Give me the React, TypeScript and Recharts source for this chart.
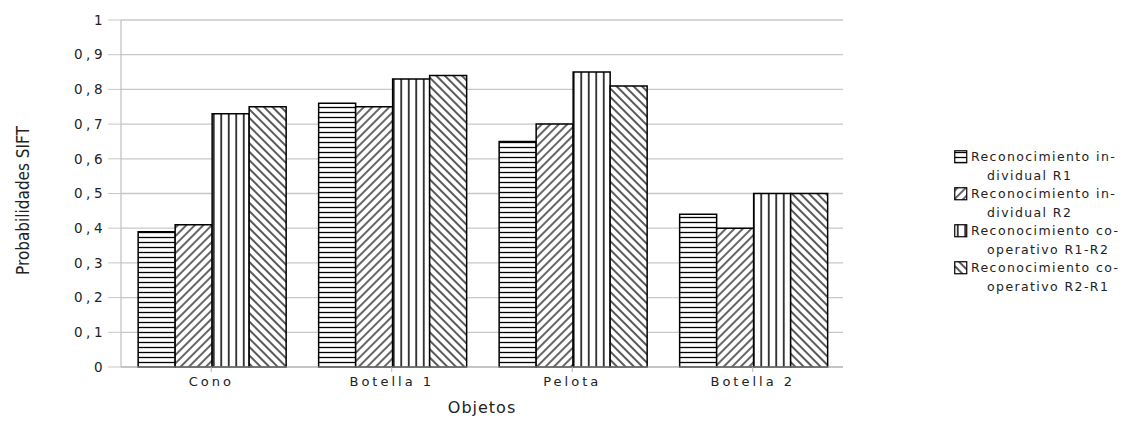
import { Bar, BarChart, CartesianGrid, XAxis, YAxis } from 'recharts'

const categories = ['Cono', 'Botella 1', 'Pelota', 'Botella 2']
const r1 = [0.39, 0.76, 0.65, 0.44]
const r2 = [0.41, 0.75, 0.7, 0.4]
const r1r2 = [0.73, 0.83, 0.85, 0.5]
const r2r1 = [0.75, 0.84, 0.81, 0.5]
const yTicks = [0, 0.1, 0.2, 0.3, 0.4, 0.5, 0.6, 0.7, 0.8, 0.9, 1]

const series = [
  { key: 'r1', values: r1, pattern: 'pHoriz', label: ['Reconocimiento in-', 'dividual R1'] },
  { key: 'r2', values: r2, pattern: 'pDiagUp', label: ['Reconocimiento in-', 'dividual R2'] },
  { key: 'r1r2', values: r1r2, pattern: 'pVert', label: ['Reconocimiento co-', 'operativo R1-R2'] },
  { key: 'r2r1', values: r2r1, pattern: 'pDiagDown', label: ['Reconocimiento co-', 'operativo R2-R1'] },
]

const data = categories.map((name, i) => {
  const row: Record<string, string | number> = { name }
  series.forEach((s) => (row[s.key] = s.values[i]))
  return row
})

const font = '"DejaVu Sans", sans-serif'

function Patterns() {
  return (
    <svg width={0} height={0} style={{ position: 'absolute' }}>
      <defs>
        <pattern id="pHoriz" patternUnits="userSpaceOnUse" width={6} height={5}>
          <rect width={6} height={5} fill="#fff" />
          <line x1={0} y1={2.5} x2={6} y2={2.5} stroke="#000" strokeWidth={1.3} />
        </pattern>
        <pattern id="pVert" patternUnits="userSpaceOnUse" width={7.5} height={6}>
          <rect width={7.5} height={6} fill="#fff" />
          <line x1={3.75} y1={0} x2={3.75} y2={6} stroke="#000" strokeWidth={1.5} />
        </pattern>
        <pattern id="pDiagUp" patternUnits="userSpaceOnUse" width={6} height={6} patternTransform="rotate(45)">
          <rect width={6} height={6} fill="#fff" />
          <line x1={3} y1={0} x2={3} y2={6} stroke="#000" strokeWidth={1.2} />
        </pattern>
        <pattern id="pDiagDown" patternUnits="userSpaceOnUse" width={6} height={6} patternTransform="rotate(-45)">
          <rect width={6} height={6} fill="#fff" />
          <line x1={3} y1={0} x2={3} y2={6} stroke="#000" strokeWidth={1.3} />
        </pattern>
      </defs>
    </svg>
  )
}

function LegendBox() {
  return (
    <div
      style={{
        position: 'absolute',
        left: 954,
        top: 148,
        fontFamily: font,
        fontSize: 12.5,
        letterSpacing: 1.4,
        color: '#222',
        lineHeight: '18.5px',
      }}
    >
      {series.map((s) => (
        <div key={s.key} style={{ display: 'flex', alignItems: 'flex-start' }}>
          <svg width={14} height={14} style={{ marginTop: 2, marginRight: 3, flex: 'none' }}>
            <rect x={0.75} y={0.75} width={12} height={12} fill={`url(#${s.pattern})`} stroke="#000" strokeWidth={1.2} />
          </svg>
          <div>
            <div>{s.label[0]}</div>
            <div style={{ paddingLeft: 16 }}>{s.label[1]}</div>
          </div>
        </div>
      ))}
    </div>
  )
}

function YLabel(props: any) {
  const vb = props.viewBox || { x: 0, y: 20, height: 347 }
  const x = 23
  const y = vb.y + vb.height / 2 + 7
  return (
    <text
      x={x}
      y={y}
      transform={`rotate(-90 ${x} ${y})`}
      textAnchor="middle"
      dominantBaseline="central"
      fontFamily='"Liberation Sans Narrow", "DejaVu Sans Condensed", sans-serif'
      fontSize={17}
      fill="#222"
    >
      Probabilidades SIFT
    </text>
  )
}

export default function App() {
  return (
    <div style={{ position: 'absolute', left: 0, top: 0, width: 1130, height: 421, background: '#fff' }}>
      <Patterns />
      <BarChart
        width={1130}
        height={421}
        data={data}
        margin={{ top: 20, right: 287, bottom: 24, left: 0 }}
        barCategoryGap="9.5%"
        barGap={0}
      >
        <CartesianGrid stroke="#c8c8c8" strokeWidth={1.3} vertical={false} />
        <XAxis
          dataKey="name"
          height={30}
          stroke="#b3b3b3"
          tickLine={{ stroke: '#b3b3b3' }}
          tickSize={5}
          tickMargin={5}
          tick={{ fontFamily: font, fontSize: 13, fill: '#222', letterSpacing: 3 }}
          label={{ value: 'Objetos', position: 'insideBottom', offset: -16, style: { fontFamily: font, fontSize: 16, fill: '#222', letterSpacing: 1 } }}
        />
        <YAxis
          width={121}
          domain={[0, 1]}
          ticks={yTicks}
          stroke="#b3b3b3"
          tickSize={13}
          tickLine={{ stroke: '#c8c8c8' }}
          tick={{ fontFamily: font, fontSize: 13.5, fill: '#222', letterSpacing: 3.5 }}
          tickFormatter={(v: number) => (v === 0 || v === 1 ? String(v) : v.toFixed(1).replace('.', ','))}
          label={<YLabel />}
        />
        {series.map((s) => (
          <Bar
            key={s.key}
            dataKey={s.key}
            fill={`url(#${s.pattern})`}
            stroke="#000"
            strokeWidth={1.5}
            isAnimationActive={false}
          />
        ))}
      </BarChart>
      <LegendBox />
    </div>
  )
}
